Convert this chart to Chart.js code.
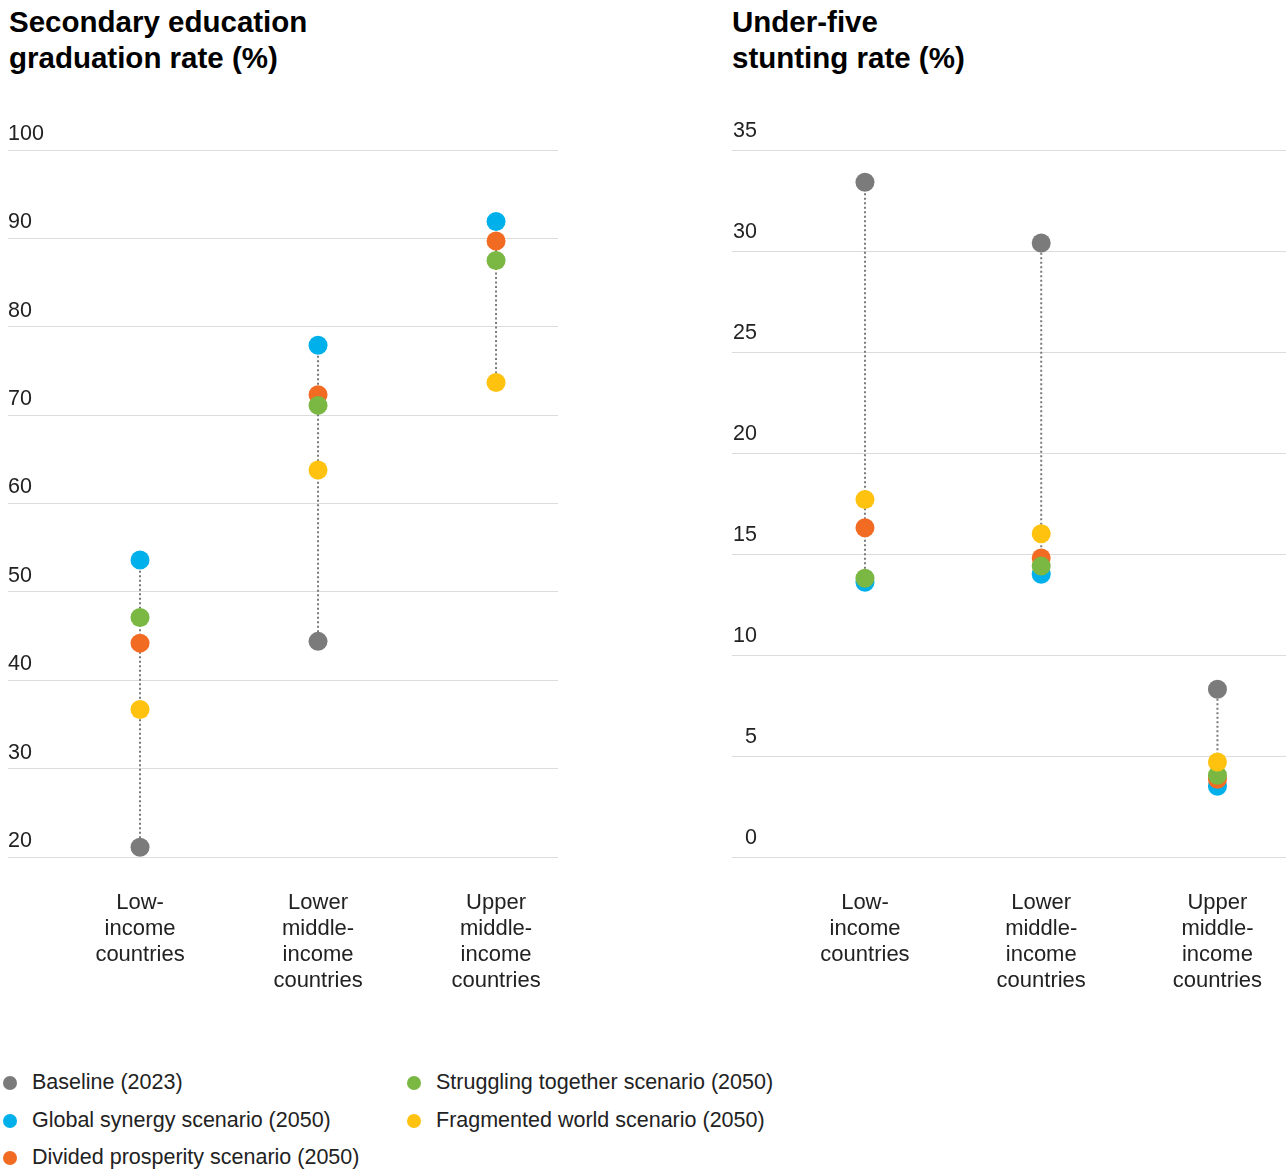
<!DOCTYPE html>
<html>
<head>
<meta charset="utf-8">
<script src="https://cdn.jsdelivr.net/npm/chart.js@4/dist/chart.umd.min.js"></script>
<style>
  html, body { margin: 0; padding: 0; background: #fff; }
  body { width: 1287px; height: 1171px; position: relative; overflow: hidden; font-family: "Liberation Sans", Arial, sans-serif; color: #1a1a1a; }
  .title { position: absolute; top: 4px; font-weight: bold; font-size: 29.5px; line-height: 36px; color: #000; }
  .wrap { position: absolute; top: 0; }
  .legend { position: absolute; top: 1064px; font-size: 21.5px; color: #222; }
  .legend .row { height: 37.5px; line-height: 37.5px; position: relative; padding-left: 32px; white-space: nowrap; }
  .legend .dot { position: absolute; left: 3px; top: 12px; width: 14px; height: 14px; border-radius: 50%; }
</style>
</head>
<body>
<div class="title" style="left:9px">Secondary education<br>graduation rate (%)</div>
<div class="title" style="left:732px">Under-five<br>stunting rate (%)</div>
<div class="wrap" style="left:0;width:600px;height:1000px"><canvas id="c1" width="600" height="1000"></canvas></div>
<div class="wrap" style="left:720px;width:567px;height:1000px"><canvas id="c2" width="567" height="1000"></canvas></div>
<div class="legend" id="legA" style="left:0"></div>
<div class="legend" id="legB" style="left:404px"></div>
<script>
// ---- data ----
const categories = ["Low-income countries", "Lower middle-income countries", "Upper middle-income countries"];
const categoryLines = [["Low-", "income", "countries"], ["Lower", "middle-", "income", "countries"], ["Upper", "middle-", "income", "countries"]];
const seriesNames = ["Baseline (2023)", "Global synergy scenario (2050)", "Divided prosperity scenario (2050)", "Struggling together scenario (2050)", "Fragmented world scenario (2050)"];
const seriesColors = ["#7b7b7b", "#00b0eb", "#f26b22", "#7ab843", "#ffc20e"];

const eduBaseline    = [21.1, 44.4, null];
const eduGlobal      = [53.6, 77.9, 91.9];
const eduDivided     = [44.2, 72.3, 89.7];
const eduStruggling  = [47.1, 71.1, 87.5];
const eduFragmented  = [36.7, 63.8, 73.7];

const stuntBaseline   = [33.4, 30.4, 8.3];
const stuntGlobal     = [13.6, 14.0, 3.5];
const stuntDivided    = [16.3, 14.8, 3.85];
const stuntStruggling = [13.8, 14.4, 4.05];
const stuntFragmented = [17.7, 16.0, 4.7];

const eduTicks = [20, 30, 40, 50, 60, 70, 80, 90, 100];
const stuntTicks = [0, 5, 10, 15, 20, 25, 30, 35];

// ---- legend (HTML) ----
function legendRow(i) {
  return '<div class="row"><span class="dot" style="background:' + seriesColors[i] + '"></span>' + seriesNames[i] + '</div>';
}
document.getElementById('legA').innerHTML = [0, 1, 2].map(legendRow).join('');
document.getElementById('legB').innerHTML = [3, 4].map(legendRow).join('');

const drawOrder = [5, 4, 3, 2, 1]; // yellow on top

function buildDatasets(seriesList) {
  const ds = [];
  seriesList.forEach((arr, s) => {
    ds.push({
      label: seriesNames[s],
      data: arr.map((v, i) => v === null ? null : { x: i, y: v }).filter(p => p !== null),
      backgroundColor: seriesColors[s],
      borderColor: seriesColors[s],
      pointRadius: 9.5,
      pointHoverRadius: 9.5,
      borderWidth: 0,
      order: drawOrder[s]
    });
  });
  // dotted connectors from min to max within each category
  categories.forEach((c, i) => {
    const vals = seriesList.map(a => a[i]).filter(v => v !== null);
    ds.push({
      label: 'range ' + i,
      data: [{ x: i, y: Math.min(...vals) }, { x: i, y: Math.max(...vals) }],
      showLine: true,
      borderColor: '#7a7a7a',
      borderWidth: 2,
      borderDash: [2, 2.5],
      pointRadius: 0,
      order: 20
    });
  });
  return ds;
}

const yLabelPlugin = {
  id: 'yLabels',
  afterDraw(chart, args, opts) {
    const ctx = chart.ctx;
    const y = chart.scales.y;
    const area = chart.chartArea;
    ctx.save();
    ctx.font = '21.5px "Liberation Sans", Arial, sans-serif';
    ctx.fillStyle = '#222';
    ctx.textBaseline = 'middle';
    ctx.textAlign = opts.align;
    opts.ticks.forEach(t => {
      const px = y.getPixelForValue(t);
      ctx.fillText(String(t), area.left + opts.dx, px - opts.dy);
    });
    ctx.restore();
  }
};

function makeChart(id, seriesList, yMin, yMax, yStep, ticks, xMin, xMax, pad, labelAlign, labelDx, labelDy) {
  return new Chart(document.getElementById(id), {
    type: 'scatter',
    data: { datasets: buildDatasets(seriesList) },
    options: {
      responsive: false,
      animation: false,
      events: [],
      layout: { padding: pad, autoPadding: false },
      plugins: {
        legend: { display: false },
        tooltip: { enabled: false },
        yLabels: { ticks: ticks, align: labelAlign, dx: labelDx, dy: labelDy }
      },
      scales: {
        x: {
          type: 'linear',
          min: xMin, max: xMax,
          afterBuildTicks: (scale) => { scale.ticks = categories.map((c, i) => ({ value: i })); },
          afterFit: (scale) => { scale.height = 143; scale.paddingLeft = 0; scale.paddingRight = 0; },
          grid: { display: false, drawTicks: false },
          border: { display: false },
          ticks: {
            padding: 33,
            autoSkip: false,
            maxRotation: 0,
            color: '#222',
            font: { family: '"Liberation Sans", Arial, sans-serif', size: 22, lineHeight: 1.18 },
            callback: (v) => categoryLines[v] || ''
          }
        },
        y: {
          min: yMin, max: yMax,
          ticks: { display: false, stepSize: yStep },
          grid: { color: '#dcdcdc', lineWidth: 1, drawTicks: false },
          border: { display: false }
        }
      }
    },
    plugins: [yLabelPlugin]
  });
}

makeChart('c1', [eduBaseline, eduGlobal, eduDivided, eduStruggling, eduFragmented],
  20, 100, 10, eduTicks, -0.7416, 2.348, { left: 8, right: 42, top: 150, bottom: 0 }, 'left', 0, 16);
makeChart('c2', [stuntBaseline, stuntGlobal, stuntDivided, stuntStruggling, stuntFragmented],
  0, 35, 5, stuntTicks, -0.7546, 2.389, { left: 12, right: 1, top: 150, bottom: 0 }, 'right', 25, 19);
</script>
</body>
</html>
